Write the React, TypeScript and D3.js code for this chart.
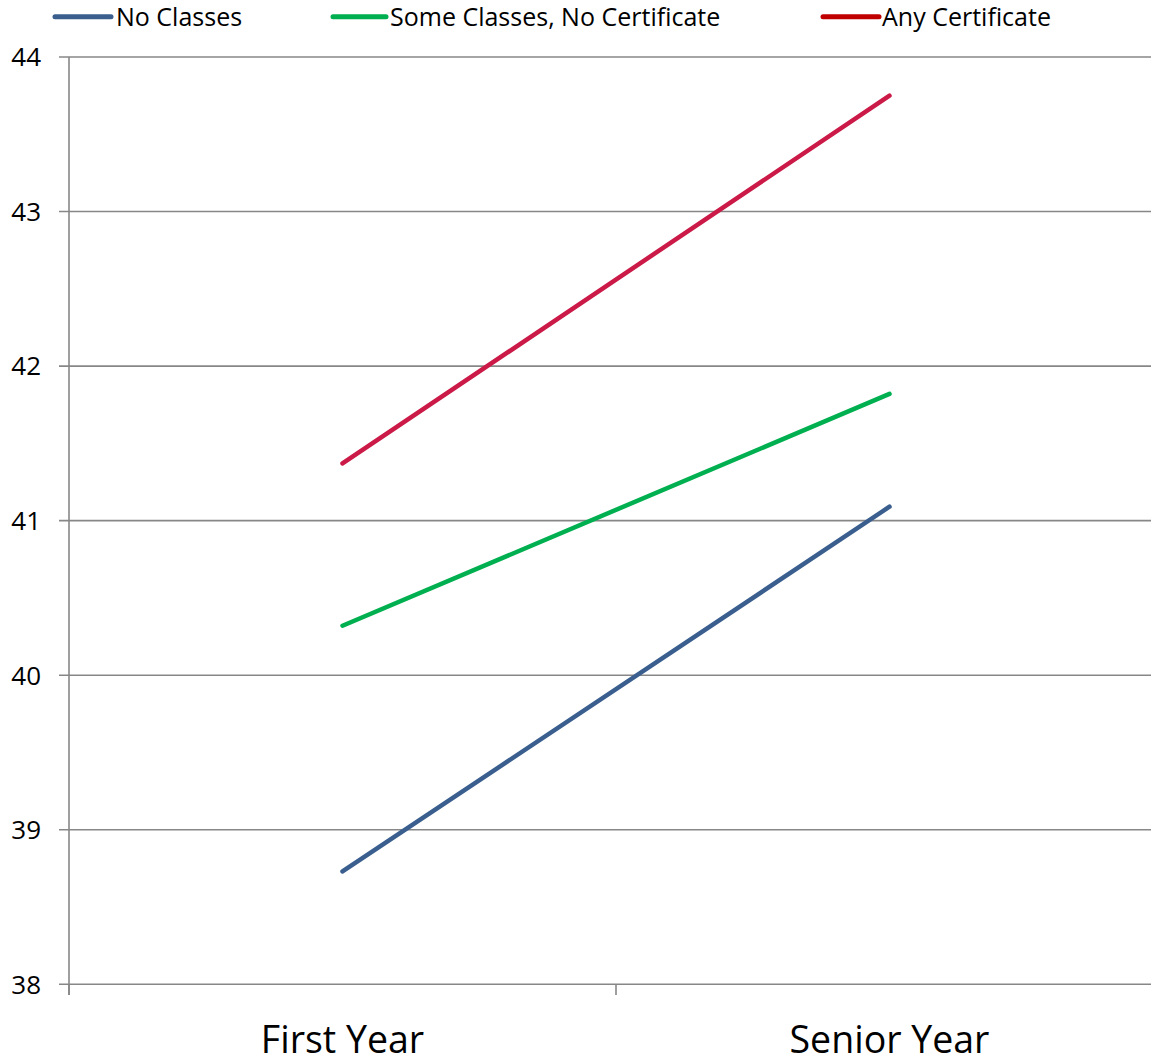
import React from "react";
import * as d3 from "d3";

// Mean score by school year, split by certificate status
const categories = ["First Year", "Senior Year"];
const seriesNames = ["No Classes", "Some Classes, No Certificate", "Any Certificate"];
const noClasses = [38.73, 41.09];
const someClasses = [40.32, 41.82];
const anyCertificate = [41.37, 43.75];
const yTicks = [38, 39, 40, 41, 42, 43, 44];

const lineColors = ["#3A5F8F", "#00B050", "#CB1A47"];
const legendColors = ["#3A5F8F", "#00B050", "#C00000"];

const W = 1151;
const H = 1064;
const FONT = "'Open Sans', 'Noto Sans', sans-serif";

export default function App() {
  const x = d3.scaleBand<string>().domain(categories).range([69, 1163]);
  const y = d3.scaleLinear().domain([38, 44]).range([984.3, 57]);
  const line = d3
    .line<number>()
    .x((_, i) => (x(categories[i]) as number) + x.bandwidth() / 2)
    .y((v) => y(v));

  const series = [noClasses, someClasses, anyCertificate];
  const legendItems = [
    { x0: 55, x1: 111, tx: 116 },
    { x0: 333, x1: 386, tx: 390 },
    { x0: 823, x1: 879, tx: 882 },
  ];
  const grid = "#878787";

  return (
    <svg
      width={W}
      height={H}
      style={{ position: "absolute", left: 0, top: 0, background: "#fff" }}
    >
      {/* horizontal gridlines and y tick labels */}
      {yTicks.map((t) => (
        <g key={t}>
          <line x1={59} x2={W} y1={y(t)} y2={y(t)} stroke={grid} strokeWidth={1.6} />
          <text
            x={41}
            y={y(t)}
            dy="0.36em"
            textAnchor="end"
            fontFamily={FONT}
            fontSize={26}
            fill="#000"
          >
            {t}
          </text>
        </g>
      ))}
      {/* y axis */}
      <line x1={69} x2={69} y1={57} y2={995} stroke={grid} strokeWidth={1.6} />
      {/* category boundary ticks */}
      {categories.map((c) => (
        <line
          key={c}
          x1={x(c) as number}
          x2={x(c) as number}
          y1={984.3}
          y2={995}
          stroke={grid}
          strokeWidth={1.6}
        />
      ))}
      {/* category labels */}
      {categories.map((c) => (
        <text
          key={c}
          x={(x(c) as number) + x.bandwidth() / 2}
          y={1053}
          textAnchor="middle"
          fontFamily={FONT}
          fontSize={37.5}
          fill="#000"
        >
          {c}
        </text>
      ))}
      {/* series lines */}
      {series.map((s, i) => (
        <path
          key={seriesNames[i]}
          d={line(s) || ""}
          fill="none"
          stroke={lineColors[i]}
          strokeWidth={4.5}
          strokeLinecap="round"
        />
      ))}
      {/* legend */}
      {seriesNames.map((n, i) => (
        <g key={n}>
          <line
            x1={legendItems[i].x0}
            x2={legendItems[i].x1}
            y1={16.7}
            y2={16.7}
            stroke={legendColors[i]}
            strokeWidth={5}
            strokeLinecap="round"
          />
          <text
            x={legendItems[i].tx}
            y={26}
            fontFamily={FONT}
            fontSize={25}
            fill="#000"
          >
            {n}
          </text>
        </g>
      ))}
    </svg>
  );
}
